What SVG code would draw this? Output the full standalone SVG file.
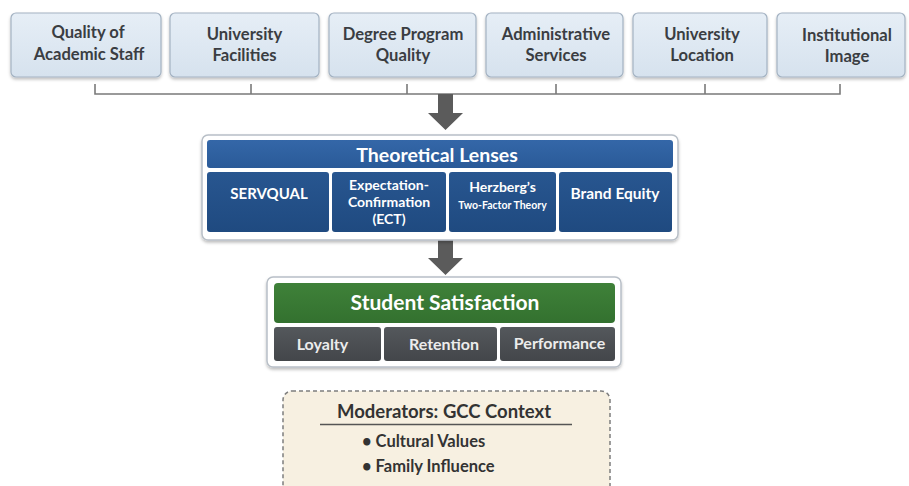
<svg xmlns="http://www.w3.org/2000/svg" width="909" height="486" viewBox="0 0 909 486">
<defs>
<filter id="sh" x="-10%" y="-10%" width="120%" height="130%"><feDropShadow dx="0" dy="2" stdDeviation="1.5" flood-color="#000" flood-opacity="0.25"/></filter>
<linearGradient id="gTop" x1="0" y1="0" x2="0" y2="1"><stop offset="0" stop-color="#e6eef6"/><stop offset="1" stop-color="#d6e2ee"/></linearGradient>
<linearGradient id="gBlue" x1="0" y1="0" x2="0" y2="1"><stop offset="0" stop-color="#3467a8"/><stop offset="1" stop-color="#2a5a98"/></linearGradient>
<linearGradient id="gNavy" x1="0" y1="0" x2="0" y2="1"><stop offset="0" stop-color="#285690"/><stop offset="1" stop-color="#1f4a80"/></linearGradient>
<linearGradient id="gGreen" x1="0" y1="0" x2="0" y2="1"><stop offset="0" stop-color="#3f8139"/><stop offset="1" stop-color="#33712f"/></linearGradient>
<linearGradient id="gGray" x1="0" y1="0" x2="0" y2="1"><stop offset="0" stop-color="#54585c"/><stop offset="1" stop-color="#43464a"/></linearGradient>
</defs>
<style>
text{font-family:Lato,"Open Sans","Liberation Sans",sans-serif;font-weight:700;text-anchor:middle}
.top{fill:url(#gTop);stroke:#a3b2c2;stroke-width:1.2}
.tt{font-size:16.6px;fill:#3a3d42}
.panel{fill:#ffffff;stroke:#b8bfc7;stroke-width:1.5}
.wt{fill:#ffffff}
.conn{fill:none;stroke:#7a7a7a;stroke-width:1.6}
.arrow{fill:#5b5b5b}
</style>
<rect width="909" height="486" fill="#ffffff"/>
<g id="top-nodes">
<g id="n-academic-staff"><rect class="top" x="11" y="13" width="150" height="64" rx="5" filter="url(#sh)"/><text class="tt" x="88" y="38">Quality of</text><text class="tt" x="89" y="60">Academic Staff</text></g>
<g id="n-facilities"><rect class="top" x="170" y="13" width="149" height="64" rx="5" filter="url(#sh)"/><text class="tt" x="244.5" y="40">University</text><text class="tt" x="244.5" y="61">Facilities</text></g>
<g id="n-degree"><rect class="top" x="329" y="13" width="147" height="64" rx="5" filter="url(#sh)"/><text class="tt" x="403" y="40">Degree Program</text><text class="tt" x="403" y="61">Quality</text></g>
<g id="n-admin"><rect class="top" x="486" y="13" width="137" height="64" rx="5" filter="url(#sh)"/><text class="tt" x="556" y="40">Administrative</text><text class="tt" x="556" y="61">Services</text></g>
<g id="n-location"><rect class="top" x="633" y="13" width="134" height="64" rx="5" filter="url(#sh)"/><text class="tt" x="702" y="40">University</text><text class="tt" x="702" y="61">Location</text></g>
<g id="n-image"><rect class="top" x="777" y="13" width="128" height="64" rx="5" filter="url(#sh)"/><text class="tt" x="847" y="41">Institutional</text><text class="tt" x="847" y="62">Image</text></g>
</g>
<g id="connectors">
<path class="conn" d="M95 84V94H840V84M251 84V94M407 84V94M556 84V94M705 84V94"/>
<path class="arrow" d="M438 94H453V113H463L445.5 130L428 113H438Z"/>
<path class="arrow" d="M438 240H453V258H463L445.5 275L428 258H438Z"/>
</g>
<g id="theoretical-lenses">
<rect class="panel" x="202" y="135" width="476" height="105" rx="6" filter="url(#sh)"/>
<rect x="207" y="140" width="466" height="28" rx="3" fill="url(#gBlue)"/>
<text class="wt" x="437" y="162" font-size="19.5">Theoretical Lenses</text>
<g id="n-servqual"><rect x="207" y="172" width="122" height="60" rx="3" fill="url(#gNavy)"/><text class="wt" x="269" y="199" font-size="15">SERVQUAL</text></g>
<g id="n-ect"><rect x="332" y="172" width="114" height="60" rx="3" fill="url(#gNavy)"/><text class="wt" x="389" y="190" font-size="14">Expectation-</text><text class="wt" x="389" y="207" font-size="14">Confirmation</text><text class="wt" x="389" y="224" font-size="14">(ECT)</text></g>
<g id="n-herzberg"><rect x="449" y="172" width="107" height="60" rx="3" fill="url(#gNavy)"/><text class="wt" x="502.5" y="192" font-size="14">Herzberg’s</text><text class="wt" x="502.5" y="209" font-size="10.5">Two-Factor Theory</text></g>
<g id="n-brand"><rect x="559" y="172" width="113" height="60" rx="3" fill="url(#gNavy)"/><text class="wt" x="615" y="199" font-size="15.5">Brand Equity</text></g>
</g>
<g id="student-satisfaction">
<rect class="panel" x="267" y="277" width="354" height="90" rx="6" filter="url(#sh)"/>
<rect x="274" y="283" width="341" height="40" rx="4" fill="url(#gGreen)"/>
<text class="wt" x="445" y="310" font-size="21">Student Satisfaction</text>
<g id="n-loyalty"><rect x="274" y="327" width="107" height="34" rx="3" fill="url(#gGray)"/><text x="322.5" y="350" font-size="16" fill="#ececec">Loyalty</text></g>
<g id="n-retention"><rect x="384" y="327" width="113" height="34" rx="3" fill="url(#gGray)"/><text x="444" y="350" font-size="16" fill="#ececec">Retention</text></g>
<g id="n-performance"><rect x="500" y="327" width="115" height="34" rx="3" fill="url(#gGray)"/><text x="559.5" y="349" font-size="16" fill="#ececec">Performance</text></g>
</g>
<g id="moderators">
<rect x="283" y="391" width="327" height="105" rx="9" fill="#f7f0e1" stroke="#7e7e7e" stroke-width="1.5" stroke-dasharray="4 3"/>
<text x="444" y="418" font-size="18.5" fill="#333">Moderators: GCC Context</text>
<line x1="320" y1="424.5" x2="572" y2="424.5" stroke="#555" stroke-width="1.3"/>
<text x="362" y="447" font-size="16.5" fill="#333" style="text-anchor:start">• Cultural Values</text>
<text x="362" y="472" font-size="16.5" fill="#333" style="text-anchor:start">• Family Influence</text>
</g>
</svg>
